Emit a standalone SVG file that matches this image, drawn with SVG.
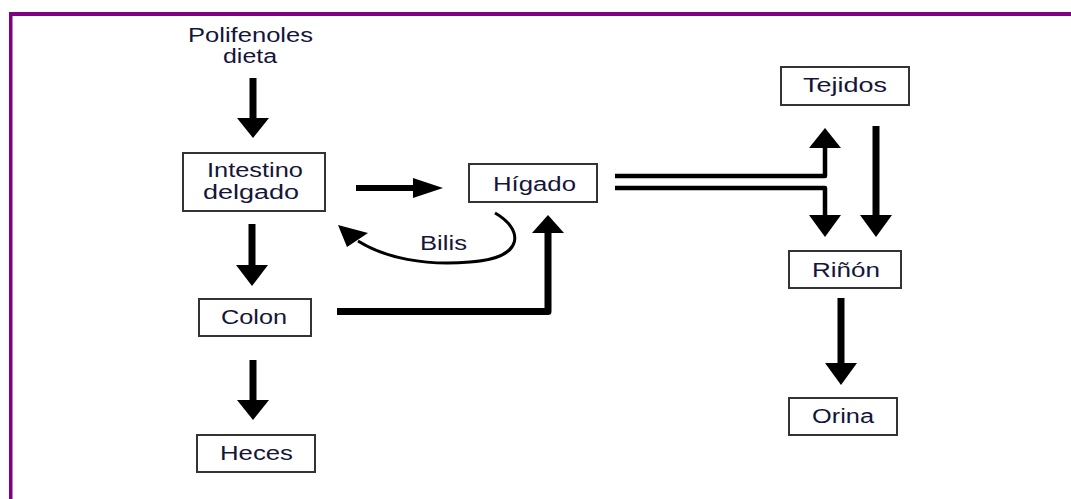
<svg xmlns="http://www.w3.org/2000/svg" width="1071" height="499" viewBox="0 0 1071 499">
<style>
.box{fill:#fff;stroke:#333;stroke-width:2}
.t{font-family:"Liberation Sans",Arial,sans-serif;font-size:20px;fill:#15153a}
.ln{fill:none;stroke:#000;stroke-linejoin:round}
.hd{fill:#000}
.frame{fill:#800080}
</style>
<rect width="1071" height="499" fill="#fff"/>
<g id="frame">
<rect class="frame" x="9" y="12" width="1062" height="4"/>
<rect class="frame" x="9" y="12" width="3.5" height="487"/>
</g>
<g id="polifenoles">
<text class="t" x="188" y="42" textLength="125" lengthAdjust="spacingAndGlyphs">Polifenoles</text>
<text class="t" x="223" y="63" textLength="54" lengthAdjust="spacingAndGlyphs">dieta</text>
</g>
<g id="intestino">
<rect class="box" x="183" y="153" width="142" height="58"/>
<text class="t" x="207" y="177" textLength="96" lengthAdjust="spacingAndGlyphs">Intestino</text>
<text class="t" x="203" y="199" textLength="96" lengthAdjust="spacingAndGlyphs">delgado</text>
</g>
<g id="higado">
<rect class="box" x="469" y="164" width="128" height="38"/>
<text class="t" x="493" y="191" textLength="83" lengthAdjust="spacingAndGlyphs">Hígado</text>
</g>
<g id="colon">
<rect class="box" x="199" y="299" width="112" height="37"/>
<text class="t" x="221" y="324" textLength="66" lengthAdjust="spacingAndGlyphs">Colon</text>
</g>
<g id="heces">
<rect class="box" x="197" y="435" width="118" height="37"/>
<text class="t" x="220" y="460" textLength="73" lengthAdjust="spacingAndGlyphs">Heces</text>
</g>
<g id="tejidos">
<rect class="box" x="781" y="67" width="128" height="38"/>
<text class="t" x="803" y="92" textLength="84" lengthAdjust="spacingAndGlyphs">Tejidos</text>
</g>
<g id="rinon">
<rect class="box" x="789" y="251" width="112" height="37"/>
<text class="t" x="812" y="277" textLength="68" lengthAdjust="spacingAndGlyphs">Riñón</text>
</g>
<g id="orina">
<rect class="box" x="789" y="398" width="108" height="37"/>
<text class="t" x="812" y="423" textLength="62" lengthAdjust="spacingAndGlyphs">Orina</text>
</g>
<g id="connectors">
<line class="ln" x1="253" y1="78" x2="253" y2="119" stroke-width="7"/>
<polygon class="hd" points="237,118 269,118 253,138"/>
<line class="ln" x1="356" y1="188" x2="414" y2="188" stroke-width="6"/>
<polygon class="hd" points="413,178 413,198 443,188"/>
<line class="ln" x1="252" y1="224" x2="252" y2="266" stroke-width="7"/>
<polygon class="hd" points="236,265 268,265 252,286"/>
<line class="ln" x1="253" y1="360" x2="253" y2="401" stroke-width="7"/>
<polygon class="hd" points="237,400 269,400 253,420"/>
<polyline class="ln" points="337,311.5 548,311.5 548,232" stroke-width="7"/>
<polygon class="hd" points="532,233 564,233 548,215"/>
<path class="ln" d="M495,213 C522,228 528,258 470,262 C425,266 385,258 358,241" stroke-width="3"/>
<polygon class="hd" points="338,225 347,247 368,233"/>
<text class="t" x="420" y="250" textLength="47" lengthAdjust="spacingAndGlyphs">Bilis</text>
<polyline class="ln" points="615,176 825,176 825,147" stroke-width="4.5"/>
<polygon class="hd" points="809,148 841,148 825,128"/>
<polyline class="ln" points="615,188 825,188 825,216" stroke-width="4.5"/>
<polygon class="hd" points="809,215 841,215 825,237"/>
<line class="ln" x1="876" y1="126" x2="876" y2="216" stroke-width="7"/>
<polygon class="hd" points="860,215 892,215 876,237"/>
<line class="ln" x1="841" y1="298" x2="841" y2="364" stroke-width="7"/>
<polygon class="hd" points="825,363 857,363 841,385"/>
</g>
</svg>
